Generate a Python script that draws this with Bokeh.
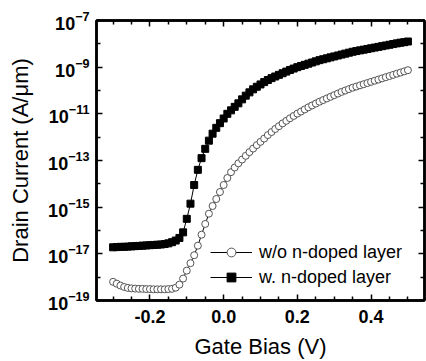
from bokeh.plotting import figure
from bokeh.models import (FixedTicker, LinearAxis, LogAxis, Legend, LegendItem,
                          Range1d, LogTickFormatter, NumeralTickFormatter,
                          CustomJSTickFormatter)
from bokeh.embed import file_html
from bokeh.resources import INLINE

gate_bias = [-0.30, -0.29, -0.28, -0.27, -0.26, -0.25, -0.24, -0.23, -0.22, -0.21,
             -0.20, -0.19, -0.18, -0.17, -0.16, -0.15, -0.14, -0.13, -0.12, -0.11,
             -0.10, -0.09, -0.08, -0.07, -0.06, -0.05, -0.04, -0.03, -0.02, -0.01,
             0.00, 0.01, 0.02, 0.03, 0.04, 0.05, 0.06, 0.07, 0.08, 0.09,
             0.10, 0.11, 0.12, 0.13, 0.14, 0.15, 0.16, 0.17, 0.18, 0.19,
             0.20, 0.21, 0.22, 0.23, 0.24, 0.25, 0.26, 0.27, 0.28, 0.29,
             0.30, 0.31, 0.32, 0.33, 0.34, 0.35, 0.36, 0.37, 0.38, 0.39,
             0.40, 0.41, 0.42, 0.43, 0.44, 0.45, 0.46, 0.47, 0.48, 0.49, 0.50]

# log10 of drain current (A/um)
log_id_without = [-18.20, -18.28, -18.36, -18.42, -18.46, -18.48, -18.49, -18.50, -18.50, -18.51,
                  -18.51, -18.52, -18.52, -18.52, -18.52, -18.51, -18.50, -18.45, -18.32, -18.06,
                  -17.72, -17.40, -17.06, -16.65, -16.18, -15.72, -15.28, -14.95, -14.65, -14.35,
                  -14.05, -13.75, -13.50, -13.30, -13.12, -12.96, -12.80, -12.64, -12.49, -12.34,
                  -12.20, -12.06, -11.91, -11.78, -11.65, -11.53, -11.41, -11.30, -11.19, -11.09,
                  -10.99, -10.90, -10.81, -10.72, -10.64, -10.56, -10.48, -10.41, -10.34, -10.27,
                  -10.20, -10.13, -10.06, -10.00, -9.94, -9.88, -9.83, -9.78, -9.73, -9.68,
                  -9.63, -9.58, -9.53, -9.48, -9.43, -9.38, -9.33, -9.28, -9.23, -9.18, -9.13]

log_id_with = [-16.72, -16.71, -16.70, -16.70, -16.69, -16.68, -16.67, -16.66, -16.65, -16.64,
               -16.63, -16.62, -16.61, -16.60, -16.58, -16.55, -16.50, -16.43, -16.32, -16.08,
               -15.50, -14.85, -14.05, -13.40, -12.90, -12.50, -12.15, -11.85, -11.60, -11.40,
               -11.20, -11.00, -10.85, -10.70, -10.55, -10.38, -10.22, -10.08, -9.95, -9.84,
               -9.74, -9.64, -9.55, -9.47, -9.40, -9.33, -9.26, -9.19, -9.12, -9.06,
               -9.00, -8.95, -8.90, -8.85, -8.80, -8.75, -8.70, -8.66, -8.62, -8.58,
               -8.54, -8.50, -8.46, -8.42, -8.38, -8.34, -8.31, -8.28, -8.25, -8.22,
               -8.19, -8.16, -8.13, -8.10, -8.07, -8.04, -8.01, -7.98, -7.95, -7.93, -7.90]

series_labels = ["w/o n-doped layer", "w. n-doped layer"]
x_major = [-0.2, 0.0, 0.2, 0.4]
x_minor = [-0.3, -0.25, -0.15, -0.1, -0.05, 0.05, 0.1, 0.15, 0.25, 0.3, 0.35, 0.45, 0.5]
y_major_exp = [-19, -17, -15, -13, -11, -9, -7]
y_minor_exp = [-18, -16, -14, -12, -10, -8]

id_without = [10 ** v for v in log_id_without]
id_with = [10 ** v for v in log_id_with]

FONT = "Liberation Sans"

p = figure(width=426, height=361, output_backend="svg", toolbar_location=None,
           x_range=Range1d(-0.345, 0.545), y_range=Range1d(1e-19, 1e-7),
           y_axis_type="log",
           min_border_left=96, min_border_right=2, min_border_top=20, min_border_bottom=60,
           background_fill_color="white", border_fill_color="white")
p.xgrid.visible = False
p.ygrid.visible = False
p.outline_line_color = "black"
p.outline_line_width = 2.5
p.outline_line_alpha = 1.0


def style_axis(ax, show_labels):
    ax.axis_line_color = "black"
    ax.axis_line_width = 2.5
    ax.major_tick_in = 6
    ax.major_tick_out = 0
    ax.minor_tick_in = 4
    ax.minor_tick_out = 0
    ax.major_tick_line_width = 1.5
    ax.minor_tick_line_width = 1.5
    ax.major_tick_line_color = "black"
    ax.minor_tick_line_color = "black"
    if show_labels:
        ax.major_label_text_font = FONT
        ax.major_label_text_font_style = "bold"
        ax.major_label_text_font_size = "18px"
        ax.major_label_text_color = "black"
        ax.axis_label_text_font = FONT
        ax.axis_label_text_font_style = "normal"
        ax.axis_label_text_font_size = "22px"
        ax.axis_label_text_color = "black"
    else:
        ax.formatter = CustomJSTickFormatter(code="return '';")
        ax.major_label_standoff = 0


xa = p.xaxis[0]
xa.ticker = FixedTicker(ticks=x_major, minor_ticks=x_minor)
xa.formatter = NumeralTickFormatter(format="0.0")
xa.axis_label = "Gate Bias (V)"
style_axis(xa, True)
xa.major_label_standoff = 9
xa.axis_label_standoff = 8

ya = p.yaxis[0]
ya.ticker = FixedTicker(ticks=[10.0 ** e for e in y_major_exp],
                        minor_ticks=[10.0 ** e for e in y_minor_exp])
ya.formatter = LogTickFormatter()
ya.axis_label = "Drain Current (A/\u03bcm)"
style_axis(ya, True)
ya.major_label_standoff = 7
ya.axis_label_standoff = 12

top = LinearAxis(ticker=FixedTicker(ticks=x_major, minor_ticks=x_minor))
style_axis(top, False)
p.add_layout(top, "above")
right = LogAxis(ticker=FixedTicker(ticks=[10.0 ** e for e in y_major_exp],
                                   minor_ticks=[10.0 ** e for e in y_minor_exp]))
style_axis(right, False)
p.add_layout(right, "right")

l1 = p.line(gate_bias, id_without, line_color="black", line_width=1)
s1 = p.scatter(gate_bias, id_without, marker="circle", size=7, fill_color="white",
               line_color="#555555", line_width=1)
l2 = p.line(gate_bias, id_with, line_color="black", line_width=1)
s2 = p.scatter(gate_bias, id_with, marker="square", size=7, fill_color="black",
               line_color="black", line_width=1)

legend = Legend(items=[LegendItem(label=series_labels[0], renderers=[l1, s1]),
                       LegendItem(label=series_labels[1], renderers=[l2, s2])],
                location=(114, 12), padding=0, margin=0, spacing=3,
                glyph_width=42, glyph_height=22, label_standoff=7,
                label_text_font=FONT, label_text_font_size="18px",
                label_text_color="black",
                background_fill_alpha=0, border_line_alpha=0)
p.add_layout(legend)

open("out.html", "w").write(file_html(p, INLINE))
